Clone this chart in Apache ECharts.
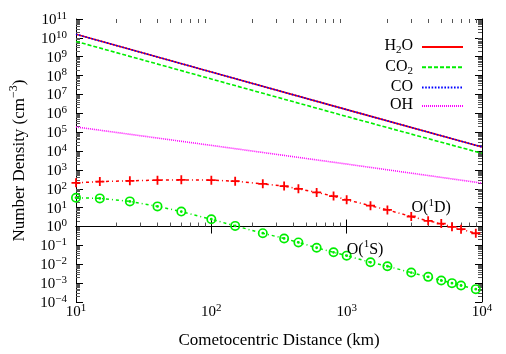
<!DOCTYPE html>
<html><head><meta charset="utf-8">
<script src="https://cdn.jsdelivr.net/npm/echarts@6/dist/echarts.min.js"></script>
<style>html,body{margin:0;padding:0;background:#fff}#c{width:506px;height:354px}</style>
</head><body><div id="c"></div>
<script>
// ---- data ----
const distanceLine = [10, 100, 1000, 10000];
const h2o = [1.55e10, 1.55e8, 1.57e6, 1.65e4];
const co2 = [6.5e9, 6.6e7, 6.8e5, 7.6e3];
const co  = [1.55e10, 1.55e8, 1.57e6, 1.65e4];
const oh  = [1.9e5, 2.0e4, 2.05e3, 2.0e2];
const distancePts = [10, 15, 25, 40, 60, 100, 150, 240, 345, 440, 600, 800, 1000, 1500, 2000, 3000, 4000, 5000, 6000, 7000, 9000];
const o1d = [207, 242, 264, 287, 298, 287, 254, 183, 139, 100, 64, 41, 26, 12.7, 7.6, 3.4, 2.0, 1.44, 0.96, 0.72, 0.44];
const o1s = [33.6, 31, 21.5, 11.7, 6.2, 2.43, 1.08, 0.445, 0.233, 0.144, 0.075, 0.043, 0.0286, 0.0127, 0.00785, 0.00364, 0.00215, 0.00138, 0.001, 0.00075, 0.00048];
const xTickExp = [1, 2, 3, 4];
const yTickExp = [-4, -3, -2, -1, 0, 1, 2, 3, 4, 5, 6, 7, 8, 9, 10, 11];
const labelO1D = { x: 4210, y: 11.3 };
const labelO1S = { x: 1368, y: 0.0695 };

const FONT = 'Liberation Serif';
const pair = (xs, ys) => xs.map((x, i) => [x, ys[i]]);
const minorExp = (lo, hi) => { const o = []; for (let k = lo; k < hi; k++) for (let m = 2; m <= 9; m++) o.push(k + Math.log10(m)); return o; };
const expText = e => (e < 0 ? '\u2212' + (-e) : String(e));
const powLabel = v => '{b|10}{e|' + expText(Math.round(v)) + '}';
const supRich = {
  b: { fontFamily: FONT, fontSize: 15, color: '#000', lineHeight: 17, verticalAlign: 'bottom' },
  e: { fontFamily: FONT, fontSize: 11, color: '#000', lineHeight: 11, verticalAlign: 'top' }
};
const annRich = {
  n: { fontFamily: FONT, fontSize: 16, color: '#000', lineHeight: 19, verticalAlign: 'bottom' },
  e: { fontFamily: FONT, fontSize: 11, color: '#000', lineHeight: 11, verticalAlign: 'top' }
};

function deco(pos, lo, hi, ticks, len, color, extra) {
  return Object.assign({
    type: 'value', position: pos, min: lo, max: hi, gridIndex: 0,
    axisLine: { show: false }, splitLine: { show: false },
    axisTick: { show: true, inside: true, length: len, customValues: ticks, lineStyle: { color: color, width: 1 } },
    axisLabel: { show: false }
  }, extra || {});
}

const xMinor = minorExp(1, 4), yMinor = minorExp(-4, 11);

const chart = echarts.init(document.getElementById('c'), null, { renderer: 'canvas' });
chart.setOption({
  animation: false,
  backgroundColor: '#fff',
  grid: { left: 76, right: 24, top: 19, bottom: 50, containLabel: false },
  xAxis: [
    { type: 'log', logBase: 10, min: 10, max: 10000, show: false, gridIndex: 0 },
    deco('bottom', 1, 4, xTickExp, 7, '#000', {
      axisLine: { show: true, lineStyle: { color: '#000', width: 1 } },
      axisLabel: { show: true, customValues: xTickExp, margin: 1, formatter: powLabel, rich: supRich, hideOverlap: false },
      name: 'Cometocentric Distance (km)', nameLocation: 'middle', nameGap: 30,
      nameTextStyle: { fontFamily: FONT, fontSize: 17, color: '#000' }
    }),
    deco('bottom', 1, 4, xMinor, 4, '#555'),
    deco('top', 1, 4, xTickExp, 7, '#000', { axisLine: { show: true, lineStyle: { color: '#000', width: 1 } } }),
    deco('top', 1, 4, xMinor, 4, '#555')
  ],
  yAxis: [
    { type: 'log', logBase: 10, min: 1e-4, max: 1e11, show: false, gridIndex: 0 },
    deco('left', -4, 11, yTickExp, 7, '#000', {
      axisLine: { show: true, lineStyle: { color: '#000', width: 1 } },
      axisLabel: { show: true, customValues: yTickExp, margin: 9, formatter: powLabel, rich: supRich, hideOverlap: false },
      name: '{n|Number Density (cm}{e|\u22123}{n|)}', nameLocation: 'middle', nameGap: 48, nameRotate: 90,
      nameTextStyle: {
        rich: {
          n: { fontFamily: FONT, fontSize: 17, color: '#000', lineHeight: 20, verticalAlign: 'bottom' },
          e: { fontFamily: FONT, fontSize: 12, color: '#000', lineHeight: 12, verticalAlign: 'top' }
        }
      }
    }),
    deco('left', -4, 11, yMinor, 4, '#555'),
    deco('right', -4, 11, yTickExp, 7, '#000', { axisLine: { show: true, lineStyle: { color: '#000', width: 1 } } }),
    deco('right', -4, 11, yMinor, 4, '#555')
  ],
  legend: {
    data: ['H2O', 'CO2', 'CO', 'OH'],
    orient: 'vertical', align: 'right', right: 42, top: 38, padding: 0,
    itemWidth: 41, itemHeight: 18, itemGap: 2.3,
    itemStyle: { color: 'rgba(0,0,0,0)', borderColor: 'rgba(0,0,0,0)', borderWidth: 0, opacity: 0 },
    formatter: n => ({ H2O: '{n|H}{s|2}{n|O}{g| }', CO2: '{n|CO}{s|2}{g| }', CO: '{n|CO}{g| }', OH: '{n|OH}{g| }' })[n],
    textStyle: {
      rich: {
        n: { fontFamily: FONT, fontSize: 16, color: '#000', lineHeight: 18, verticalAlign: 'top' },
        s: { fontFamily: FONT, fontSize: 11, color: '#000', lineHeight: 11, verticalAlign: 'bottom' },
        g: { fontSize: 10, width: 4, lineHeight: 10 }
      }
    }
  },
  series: [
    { name: 'H2O', type: 'line', xAxisIndex: 0, yAxisIndex: 0, data: pair(distanceLine, h2o), symbol: 'none',
      lineStyle: { color: '#ff0000', width: 1.6, type: 'solid' }, itemStyle: { color: '#ff0000' } },
    { name: 'CO2', type: 'line', xAxisIndex: 0, yAxisIndex: 0, data: pair(distanceLine, co2), symbol: 'none',
      lineStyle: { color: '#00ee00', width: 1.6, type: [4, 2] }, itemStyle: { color: '#00ee00' } },
    { name: 'CO', type: 'line', xAxisIndex: 0, yAxisIndex: 0, data: pair(distanceLine, co), symbol: 'none',
      lineStyle: { color: '#0000ff', width: 1.6, type: [1.6, 1.6] }, itemStyle: { color: '#0000ff' } },
    { name: 'OH', type: 'line', xAxisIndex: 0, yAxisIndex: 0, data: pair(distanceLine, oh), symbol: 'none',
      lineStyle: { color: '#ff00ff', width: 1.6, type: [1, 1] }, itemStyle: { color: '#ff00ff' } },
    { name: 'O(1D)', type: 'line', xAxisIndex: 0, yAxisIndex: 0, data: pair(distancePts, o1d), showAllSymbol: true,
      symbol: 'path://M-1,-5L1,-5L1,-1L5,-1L5,1L1,1L1,5L-1,5L-1,1L-5,1L-5,-1L-1,-1Z', symbolSize: 9,
      lineStyle: { color: '#ff0000', width: 1.5, type: [3, 3, 1, 3] }, itemStyle: { color: '#ff0000' },
      markPoint: { symbol: 'circle', symbolSize: 0, itemStyle: { color: 'rgba(0,0,0,0)' },
        label: { show: true, position: 'inside', formatter: '{n|O(}{e|1}{n|D)}', rich: annRich },
        data: [{ coord: [labelO1D.x, labelO1D.y] }] } },
    { name: 'O(1S)', type: 'line', xAxisIndex: 0, yAxisIndex: 0, data: pair(distancePts, o1s), showAllSymbol: true,
      symbol: 'path://M0,-5A5,5 0 1,1 0,5A5,5 0 1,1 0,-5ZM0,-3.3A3.3,3.3 0 1,0 0,3.3A3.3,3.3 0 1,0 0,-3.3ZM0,-1.4A1.4,1.4 0 1,1 0,1.4A1.4,1.4 0 1,1 0,-1.4Z',
      symbolSize: 10,
      lineStyle: { color: '#00ee00', width: 1.5, type: [3, 3, 1, 3] }, itemStyle: { color: '#00ee00' },
      markPoint: { symbol: 'circle', symbolSize: 0, itemStyle: { color: 'rgba(0,0,0,0)' },
        label: { show: true, position: 'inside', formatter: '{n|O(}{e|1}{n|S)}', rich: annRich },
        data: [{ coord: [labelO1S.x, labelO1S.y] }] } }
  ]
});
</script></body></html>
